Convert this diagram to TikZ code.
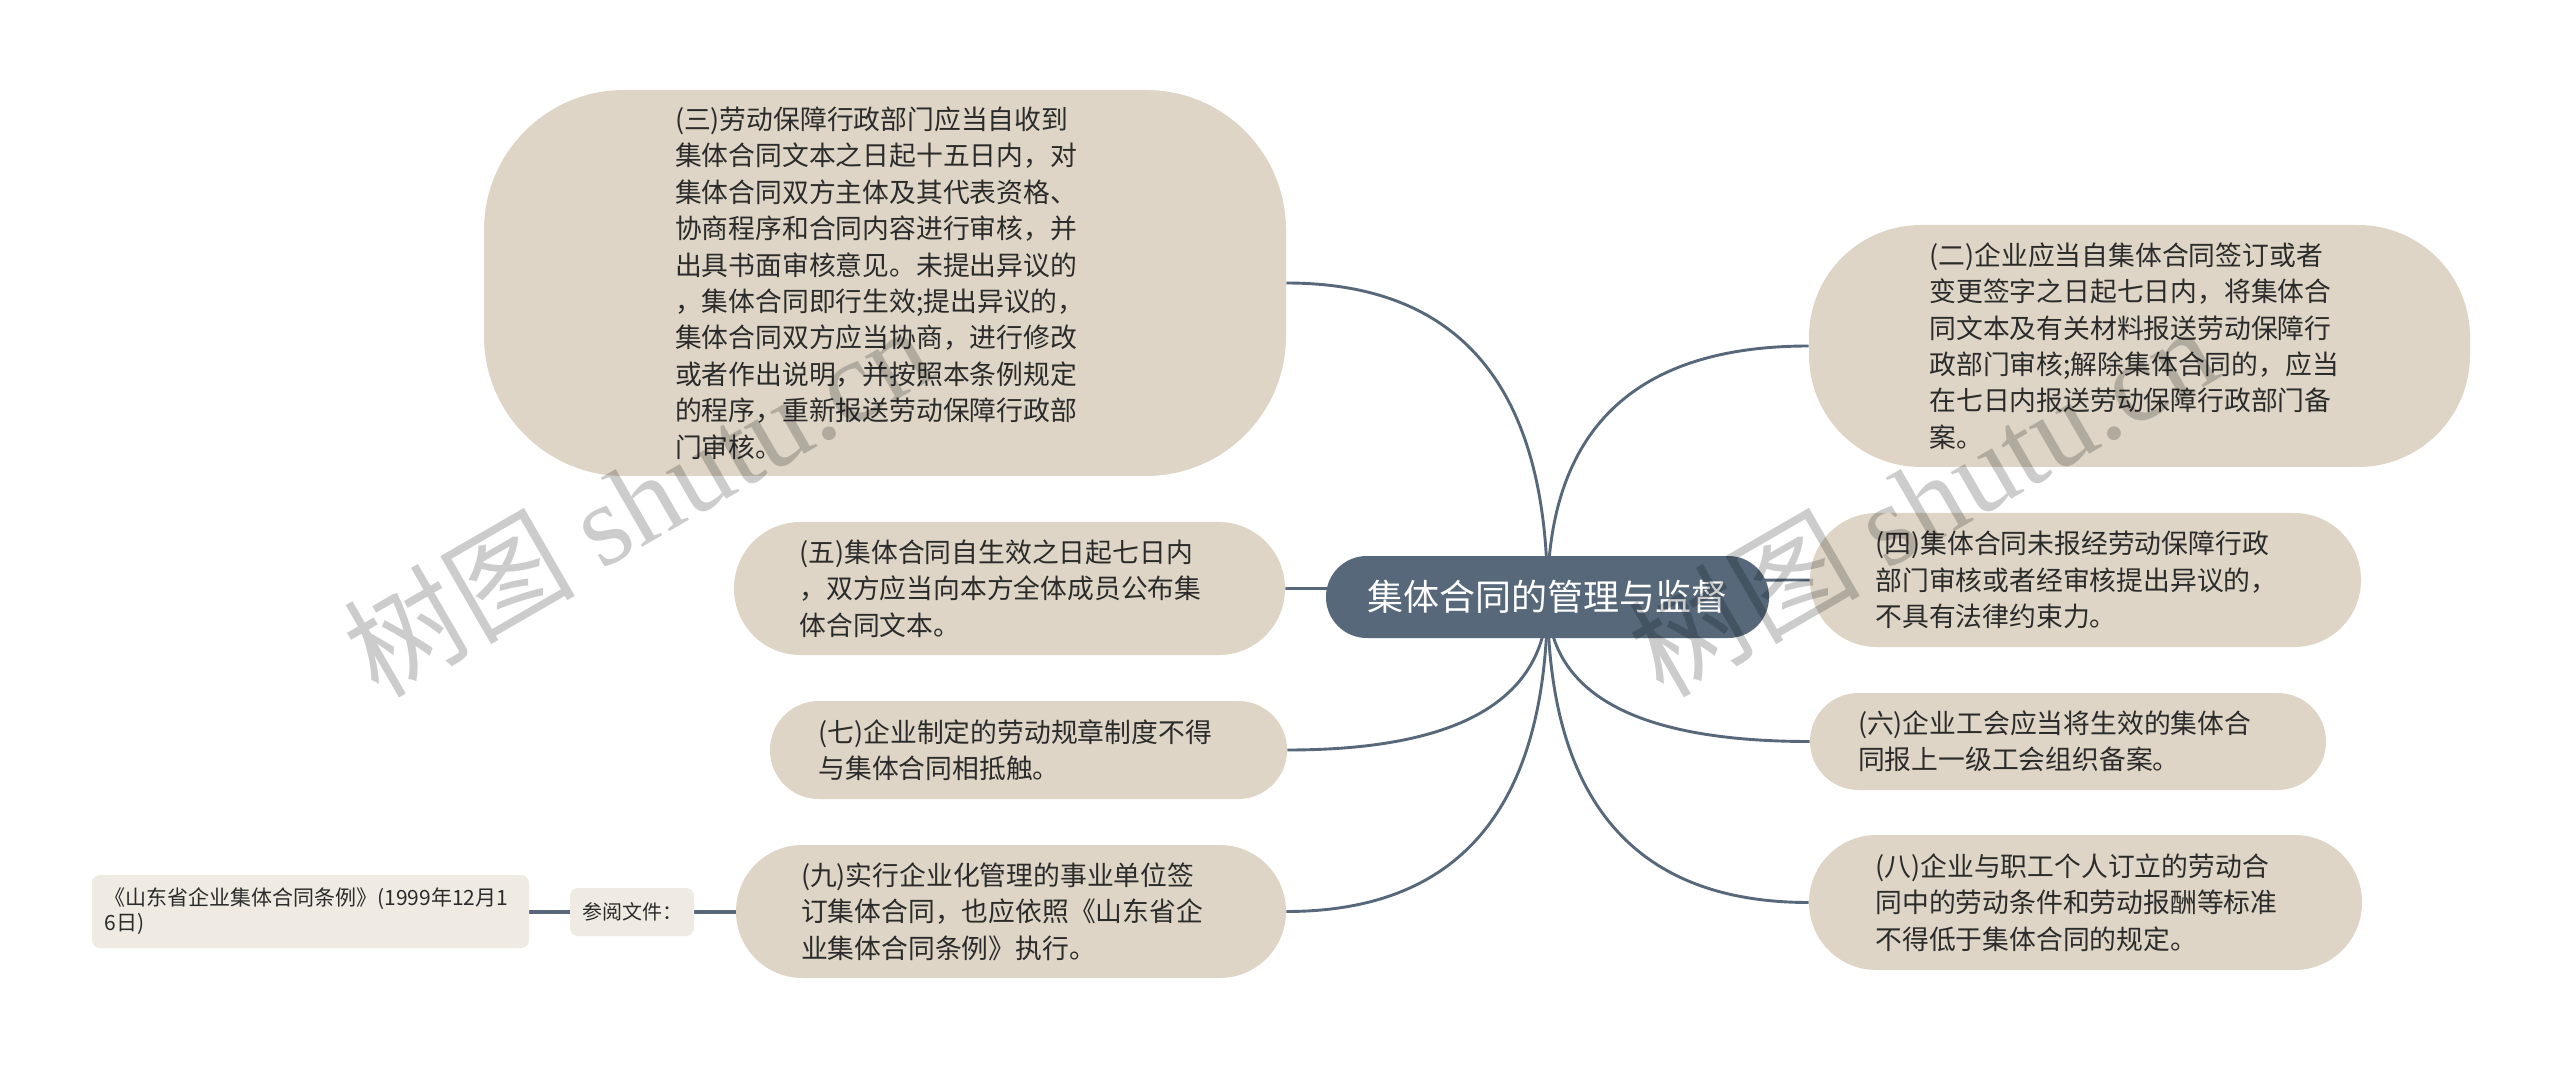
\documentclass[tikz,border=0pt]{standalone}
\usepackage{fontspec}
\setmainfont{Noto Sans CJK SC}
\newfontfamily\wmserif{Liberation Serif}
\usetikzlibrary{calc}
\pgfdeclarelayer{background}
\pgfdeclarelayer{canvas}
\pgfsetlayers{canvas,background,main}
\definecolor{leaffill}{HTML}{DED5C6}
\definecolor{slate}{HTML}{56687A}
\definecolor{lightfill}{HTML}{EFEBE3}
\definecolor{txt}{HTML}{2B2B2B}
\tikzset{
  leaf/.style={fill=leaffill, text=txt, font=\fontsize{13.4pt}{18.2pt}\selectfont,
    text width=210pt, align=left, inner sep=0pt},
  rootnode/.style={fill=slate, text=white, font=\fontsize{18pt}{22pt}\selectfont,
    inner sep=0pt, minimum width=221.5pt, minimum height=41pt, rounded corners=20.4pt},
  smallbox/.style={fill=lightfill, text=txt, font=\fontsize{10.5pt}{12.5pt}\selectfont,
    inner sep=0pt, rounded corners=4pt},
  conn/.style={draw=slate, line width=1.45pt},
  thickconn/.style={draw=slate, line width=1.7pt},
  watermark/.style={text=black, text opacity=0.2, inner sep=0pt, anchor=base west, rotate=30}
}
\newcommand{\mmlink}[2]{\draw[conn] (#1) .. controls ($(#1)!0.667!(#2|-#1)$) and ($(#2)!0.667!(#2|-#1)$) .. (#2);}
\begin{document}
\begin{tikzpicture}[x=0.5pt,y=-0.5pt]
\begin{pgfonlayer}{canvas}
\fill[white] (0,0) rectangle (2560,1069);
\end{pgfonlayer}
\useasboundingbox (0,0) rectangle (2560,1069);

\node[rootnode] (root) at (1547.5,597) {集体合同的管理与监督};

\node[leaf, minimum width=401pt, minimum height=193pt, rounded corners=70pt] (n3) at (885,283) {(三)劳动保障行政部门应当自收到\\
集体合同文本之日起十五日内，对\\
集体合同双方主体及其代表资格、\\
协商程序和合同内容进行审核，并\\
出具书面审核意见。未提出异议的\\
，集体合同即行生效;提出异议的，\\
集体合同双方应当协商，进行修改\\
或者作出说明，并按照本条例规定\\
的程序，重新报送劳动保障行政部\\
门审核。};

\node[leaf, minimum width=275.5pt, minimum height=66.5pt, rounded corners=33.2pt] (n5) at (1009.5,588.5) {(五)集体合同自生效之日起七日内\\
，双方应当向本方全体成员公布集\\
体合同文本。};

\node[leaf, minimum width=258.5pt, minimum height=49pt, rounded corners=24.4pt] (n7) at (1028.5,750) {(七)企业制定的劳动规章制度不得\\
与集体合同相抵触。};

\node[leaf, minimum width=275pt, minimum height=66.5pt, rounded corners=33.2pt] (n9) at (1011,911.5) {(九)实行企业化管理的事业单位签\\
订集体合同，也应依照《山东省企\\
业集体合同条例》执行。};

\node[leaf, minimum width=330.5pt, minimum height=121pt, rounded corners=56pt] (n2) at (2139.5,346) {(二)企业应当自集体合同签订或者\\
变更签字之日起七日内，将集体合\\
同文本及有关材料报送劳动保障行\\
政部门审核;解除集体合同的，应当\\
在七日内报送劳动保障行政部门备\\
案。};

\node[leaf, minimum width=275.5pt, minimum height=67pt, rounded corners=33.4pt] (n4) at (2085.5,580) {(四)集体合同未报经劳动保障行政\\
部门审核或者经审核提出异议的，\\
不具有法律约束力。};

\node[leaf, minimum width=258pt, minimum height=48.5pt, rounded corners=24.2pt] (n6) at (2068,741.5) {(六)企业工会应当将生效的集体合\\
同报上一级工会组织备案。};

\node[leaf, minimum width=276.5pt, minimum height=67.5pt, rounded corners=33.7pt] (n8) at (2085.5,902.5) {(八)企业与职工个人订立的劳动合\\
同中的劳动条件和劳动报酬等标准\\
不得低于集体合同的规定。};

\node[smallbox, minimum width=62pt, minimum height=24pt, align=center, font=\fontsize{10pt}{12pt}\selectfont] (ref) at (632,912) {参阅文件：};

\node[smallbox, minimum width=218.5pt, minimum height=36.5pt, text width=206pt, align=left] (doc) at (310.5,911.5) {《山东省企业集体合同条例》(1999年12月1\\6日)};

\begin{pgfonlayer}{background}
\mmlink{n3.east}{root.center}
\mmlink{n5.east}{root.center}
\mmlink{n7.east}{root.center}
\mmlink{n9.east}{root.center}
\mmlink{n2.west}{root.center}
\mmlink{n4.west}{root.center}
\mmlink{n6.west}{root.center}
\mmlink{n8.west}{root.center}
\draw[thickconn] (ref.east) -- (n9.west|-ref.east);
\draw[thickconn] (doc.east|-ref.west) -- (ref.west);
\end{pgfonlayer}

\node[watermark, font=\fontsize{58pt}{58pt}\selectfont] (wm1) at (378,700) {树图 {\wmserif shutu.cn}};
\node[watermark, font=\fontsize{58pt}{58pt}\selectfont] (wm2) at (1663,700) {树图 {\wmserif shutu.cn}};
\end{tikzpicture}
\end{document}
